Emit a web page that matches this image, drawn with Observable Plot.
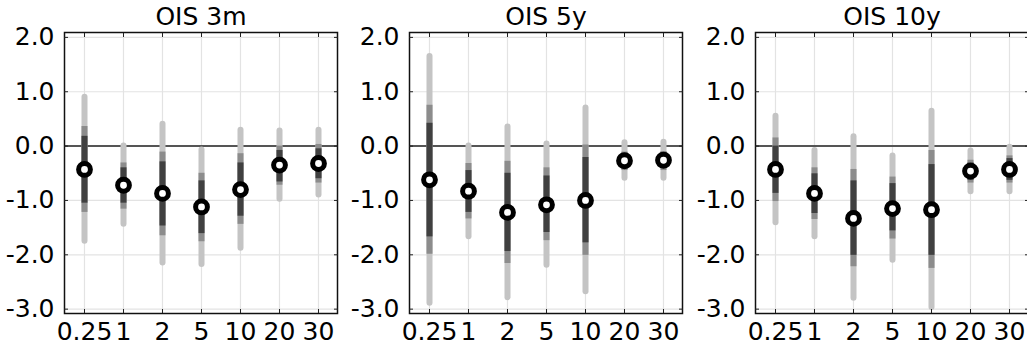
<!DOCTYPE html>
<html>
<head>
<meta charset="utf-8">
<script src="https://cdn.jsdelivr.net/npm/d3@7"></script>
<script src="https://cdn.jsdelivr.net/npm/@observablehq/plot@0.6"></script>
<style>
  html, body { margin: 0; padding: 0; background: white; overflow: hidden; }
  #wrap { position: relative; width: 1040px; height: 347px; overflow: hidden; }
  .panel { position: absolute; top: 0; width: 345px; height: 347px; }
  .panel svg { max-width: none !important; }
</style>
</head>
<body>
<div id="wrap"></div>
<script>
const categories = ["0.25", "1", "2", "5", "10", "20", "30"];
const titles = ["OIS 3m", "OIS 5y", "OIS 10y"];
const yTicks = [-3, -2, -1, 0, 1, 2];

// OIS 3m
const ois3m_center  = [-0.43, -0.72, -0.87, -1.12, -0.80, -0.35, -0.32];
const ois3m_lightHi = [ 0.90,  0.00,  0.40, -0.07,  0.29,  0.28,  0.29];
const ois3m_lightLo = [-1.75, -1.44, -2.15, -2.18, -1.88, -0.98, -0.90];
const ois3m_midHi   = [ 0.36, -0.31, -0.11, -0.50, -0.14,  0.00,  0.03];
const ois3m_midLo   = [-1.22, -1.16, -1.65, -1.76, -1.44, -0.72, -0.68];
const ois3m_darkHi  = [ 0.18, -0.40, -0.29, -0.64, -0.31, -0.08, -0.05];
const ois3m_darkLo  = [-1.05, -1.05, -1.47, -1.61, -1.29, -0.66, -0.60];

// OIS 5y
const ois5y_center  = [-0.62, -0.83, -1.22, -1.08, -1.00, -0.27, -0.26];
const ois5y_lightHi = [ 1.65,  0.00,  0.35,  0.04,  0.70,  0.06,  0.07];
const ois5y_lightLo = [-2.89, -1.67, -2.79, -2.19, -2.68, -0.59, -0.59];
const ois5y_midHi   = [ 0.75, -0.32, -0.28, -0.40,  0.02, -0.11, -0.10];
const ois5y_midLo   = [-1.99, -1.34, -2.16, -1.74, -2.01, -0.45, -0.45];
const ois5y_darkHi  = [ 0.42, -0.45, -0.50, -0.55, -0.21, -0.15, -0.14];
const ois5y_darkLo  = [-1.67, -1.22, -1.94, -1.59, -1.78, -0.39, -0.39];

// OIS 10y
const ois10y_center  = [-0.43, -0.87, -1.33, -1.15, -1.17, -0.46, -0.43];
const ois10y_lightHi = [ 0.55, -0.08,  0.17, -0.18,  0.64, -0.09, -0.02];
const ois10y_lightLo = [-1.41, -1.67, -2.80, -2.10, -2.97, -0.84, -0.84];
const ois10y_midHi   = [ 0.15, -0.40, -0.43, -0.57, -0.08, -0.26, -0.18];
const ois10y_midLo   = [-1.02, -1.35, -2.22, -1.71, -2.25, -0.68, -0.68];
const ois10y_darkHi  = [ 0.00, -0.51, -0.64, -0.69, -0.34, -0.31, -0.23];
const ois10y_darkLo  = [-0.87, -1.24, -2.01, -1.56, -2.01, -0.63, -0.63];

const panels = [
  {center: ois3m_center, lightHi: ois3m_lightHi, lightLo: ois3m_lightLo, midHi: ois3m_midHi, midLo: ois3m_midLo, darkHi: ois3m_darkHi, darkLo: ois3m_darkLo},
  {center: ois5y_center, lightHi: ois5y_lightHi, lightLo: ois5y_lightLo, midHi: ois5y_midHi, midLo: ois5y_midLo, darkHi: ois5y_darkHi, darkLo: ois5y_darkLo},
  {center: ois10y_center, lightHi: ois10y_lightHi, lightLo: ois10y_lightLo, midHi: ois10y_midHi, midLo: ois10y_midLo, darkHi: ois10y_darkHi, darkLo: ois10y_darkLo}
];

const wrap = document.getElementById("wrap");
const pitch = 345.3;
const blank = () => "";

panels.forEach((p, k) => {
  const rows = categories.map((c, i) => ({
    cat: c, center: p.center[i],
    lightHi: p.lightHi[i], lightLo: p.lightLo[i],
    midHi: p.midHi[i], midLo: p.midLo[i],
    darkHi: p.darkHi[i], darkLo: p.darkLo[i]
  }));
  const chart = Plot.plot({
    width: 345,
    height: 347,
    marginLeft: 64,
    marginRight: 8,
    marginTop: 32,
    marginBottom: 34,
    style: {fontFamily: "DejaVu Sans", color: "black", background: "white", overflow: "visible"},
    x: {type: "point", domain: categories, padding: 0.5, label: null},
    y: {domain: [-3.08, 2.09], label: null},
    marks: [
      Plot.ruleX(categories, {stroke: "#e3e3e3", strokeWidth: 1.2}),
      Plot.ruleY(yTicks, {stroke: "#e3e3e3", strokeWidth: 1.2}),
      Plot.ruleY([0], {stroke: "#555555", strokeWidth: 2}),
      Plot.ruleX(rows, {x: "cat", y1: "lightLo", y2: "lightHi", stroke: "#c4c4c4", strokeWidth: 6, strokeLinecap: "round"}),
      Plot.ruleX(rows, {x: "cat", y1: "midLo", y2: "midHi", stroke: "#8c8c8c", strokeWidth: 6}),
      Plot.ruleX(rows, {x: "cat", y1: "darkLo", y2: "darkHi", stroke: "#404040", strokeWidth: 6}),
      Plot.dot(rows, {x: "cat", y: "center", r: 5.9, stroke: "black", strokeWidth: 5, fill: "white"}),
      Plot.frame({stroke: "#111", strokeWidth: 1.5}),
      Plot.axisX({anchor: "bottom", tickSize: -4, tickFormat: blank, stroke: "#222"}),
      Plot.axisX({anchor: "top", tickSize: -4, tickFormat: blank, stroke: "#222"}),
      Plot.axisY({anchor: "left", ticks: yTicks, tickSize: -4, tickFormat: blank, stroke: "#222"}),
      Plot.axisY({anchor: "right", ticks: yTicks, tickSize: -4, tickFormat: blank, stroke: "#222"}),
      Plot.axisX({anchor: "bottom", tickSize: 0, tickPadding: 9, fontSize: 25, fill: "black", label: null}),
      Plot.axisY({anchor: "left", ticks: yTicks, tickFormat: d => d.toFixed(1), tickSize: 0, tickPadding: 10, fontSize: 25, fill: "black", label: null}),
      Plot.text([titles[k]], {frameAnchor: "top", dy: -8, lineAnchor: "bottom", fontSize: 25, fill: "black"})
    ]
  });
  const div = document.createElement("div");
  div.className = "panel";
  div.style.left = (k * pitch) + "px";
  div.appendChild(chart);
  wrap.appendChild(div);
});
</script>
</body>
</html>
